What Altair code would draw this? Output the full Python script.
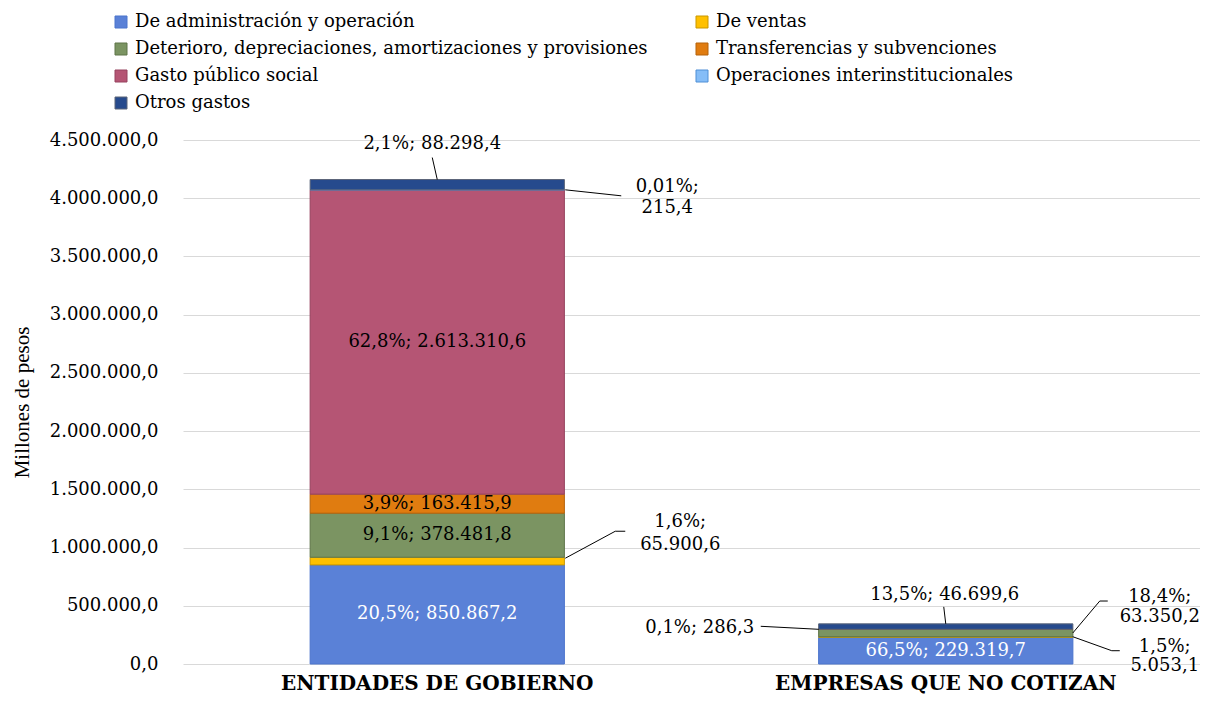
import altair as alt
import pandas as pd

# ---------------- data ----------------
categories = ["ENTIDADES DE GOBIERNO", "EMPRESAS QUE NO COTIZAN"]
series = [
    "De administración y operación",
    "De ventas",
    "Deterioro, depreciaciones, amortizaciones y provisiones",
    "Transferencias y subvenciones",
    "Gasto público social",
    "Operaciones interinstitucionales",
    "Otros gastos",
]
values_entidades = [850867.2, 65900.6, 378481.8, 163415.9, 2613310.6, 215.4, 88298.4]
values_empresas = [229319.7, 5053.1, 63350.2, 286.3, 0.0, 0.0, 46699.6]
pct_entidades = ["20,5%", "1,6%", "9,1%", "3,9%", "62,8%", "0,01%", "2,1%"]
pct_empresas = ["66,5%", "1,5%", "18,4%", "0,1%", "", "", "13,5%"]
y_ticks = [0, 500000, 1000000, 1500000, 2000000, 2500000, 3000000, 3500000, 4000000, 4500000]

fill_colors = ["#5A81D7", "#FFC000", "#7B9462", "#E07C10", "#B55574", "#85BDF7", "#264A8D"]
stroke_colors = ["#4B74CC", "#C99700", "#5E7548", "#B5620A", "#96425E", "#4F8FD6", "#5A6478"]

# segments drawn inside the bar (white text for the first series)
inside = {
    (0, 0): "white", (0, 2): "black", (0, 3): "black", (0, 4): "black",
    (1, 0): "white",
}


def fmt(v):
    s = f"{v:,.1f}"
    return s.replace(",", "X").replace(".", ",").replace("X", ".")


rows = []
for ci, (cat, vals, pcts) in enumerate(zip(categories,
                                           [values_entidades, values_empresas],
                                           [pct_entidades, pct_empresas])):
    cum = 0.0
    for i, (s, v, p) in enumerate(zip(series, vals, pcts)):
        if v > 0:
            rows.append(dict(cat=cat, ci=ci, serie=s, idx=i, value=v, y0=cum, y1=cum + v,
                             mid=cum + v / 2, label=f"{p}; {fmt(v)}",
                             label2=f"{p};\n{fmt(v)}"))
        cum += v
df = pd.DataFrame(rows)

FONT = "DejaVu Serif"
YTITLE = "Millones  de pesos"

xenc = alt.X("cat:N", sort=categories, title=None,
             scale=alt.Scale(paddingInner=0.5, paddingOuter=0.25),
             axis=alt.Axis(labelFont=FONT, labelFontWeight="bold", labelFontSize=20,
                           labelColor="black", domain=False, ticks=False, labelAngle=0,
                           labelPadding=9, labelLimit=0, grid=False))

bars = alt.Chart(df).mark_bar(strokeWidth=1).encode(
    x=xenc,
    y=alt.Y("y0:Q", scale=alt.Scale(domain=[0, 4500000], nice=False), title=YTITLE,
            axis=alt.Axis(values=y_ticks, format=",.1f", labelFont=FONT, labelFontSize=18,
                          labelColor="black", grid=True, gridColor="#d9d9d9", domain=False,
                          ticks=False, labelPadding=25,
                          titleFont="Liberation Serif", titleFontSize=21,
                          titleFontWeight="normal", titleColor="black", titlePadding=17)),
    y2="y1:Q",
    color=alt.Color("serie:N", title=None,
                    scale=alt.Scale(domain=series, range=fill_colors)),
    stroke=alt.Stroke("serie:N", title=None,
                      scale=alt.Scale(domain=series, range=stroke_colors)),
    order=alt.Order("idx:Q", sort="ascending"),
)

xa = alt.X("cat:N", sort=categories, title=None)

layers = [bars]

# labels inside the bars
for tcol in ["white", "black"]:
    keys = [k for k, c in inside.items() if c == tcol]
    sub = df[[(r.ci, r.idx) in keys for r in df.itertuples()]]
    layers.append(
        alt.Chart(sub).mark_text(font=FONT, fontSize=18, color=tcol, align="center",
                                 baseline="middle").encode(
            x=xa, y=alt.Y("mid:Q", title=YTITLE), text="label:N"))


def seg(ci, idx):
    return df[(df.ci == ci) & (df.idx == idx)]


# external labels: (category, series, anchor field, text dx, dy, multiline, lineHeight)
ext_labels = [
    (0, 6, "y1", -5, -36, False, 0),
    (0, 5, "y1", 230, -3, True, 21),
    (0, 1, "y1", 243, -35, True, 23),
    (1, 6, "y1", -1, -29, False, 0),
    (1, 3, "y1", -246, -1, False, 0),
    (1, 2, "mid", 214, -36, True, 20),
    (1, 1, "y1", 219, 10, True, 19),
]
for ci, idx, fld, dx, dy, multi, lh in ext_labels:
    kw = dict(font=FONT, fontSize=18, color="black", align="center", baseline="middle",
              dx=dx, dy=dy)
    if multi:
        kw.update(lineBreak="\n", lineHeight=lh)
    layers.append(
        alt.Chart(seg(ci, idx)).mark_text(**kw).encode(
            x=xa, y=alt.Y(f"{fld}:Q", title=YTITLE),
            text="label2:N" if multi else "label:N"))

# leader lines: (category, series, anchor field, x1, y1, x2, y2) offsets in px
leaders = [
    (0, 6, "y1", 0, 0, -5, -22),
    (0, 5, "y1", 128, 0, 184, 6),
    (0, 1, "y1", 128, 1, 178, -26),
    (0, 1, "y1", 178, -26, 188, -26),
    (1, 6, "y1", -2, -17, 0, 0),
    (1, 3, "y1", -127, 0, -185, -3),
    (1, 2, "mid", 127, 0, 154, -32),
    (1, 2, "mid", 154, -32, 162, -32),
    (1, 1, "y1", 127, 0, 166, 14),
    (1, 1, "y1", 166, 14, 174, 14),
]
for ci, idx, fld, x1, y1, x2, y2 in leaders:
    layers.append(
        alt.Chart(seg(ci, idx)).mark_rule(color="black", strokeWidth=1, xOffset=x1,
                                          x2Offset=x2, yOffset=y1, y2Offset=y2).encode(
            x=xa, x2="cat:N", y=alt.Y(f"{fld}:Q", title=YTITLE), y2=f"{fld}:Q"))

chart = alt.layer(*layers).properties(
    width=1017, height=524,
    autosize=alt.AutoSizeParams(type="none"),
    padding={"left": 175, "top": 132, "right": 0, "bottom": 30},
).configure(
    locale={"number": {"decimal": ",", "thousands": ".", "grouping": [3],
                       "currency": ["$", ""]}},
).configure_view(stroke=None).configure_legend(
    orient="none", legendX=-71, legendY=-127, columns=2, columnPadding=45,
    direction="horizontal",
    rowPadding=9, labelFont=FONT, labelFontSize=18, labelColor="black",
    symbolType="square", symbolSize=144, symbolStrokeWidth=1, labelOffset=5,
    labelLimit=0, padding=0,
)

chart.save("out.html", embed_options={"renderer": "svg", "actions": False})
